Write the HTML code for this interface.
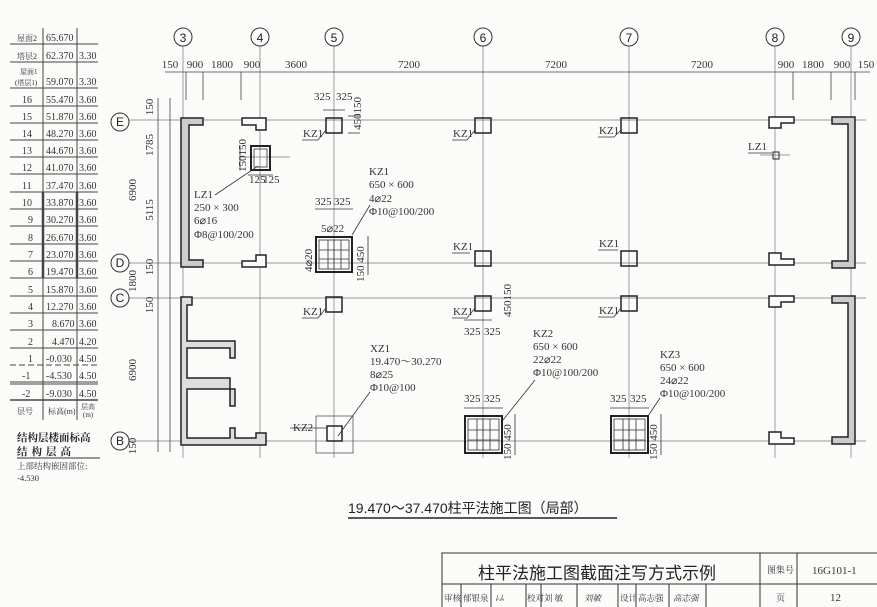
<!DOCTYPE html>
<html><head><meta charset="utf-8"><style>
html,body{margin:0;padding:0;background:#fbfbfa;}
svg{display:block;font-family:"Liberation Serif","Noto Serif CJK SC",serif;}
.t{font-size:11px;fill:#333;}
.s{font-size:10px;fill:#333;}
</style></head><body>
<svg width="877" height="607" viewBox="0 0 877 607" xmlns="http://www.w3.org/2000/svg">
<rect width="877" height="607" fill="#fbfbfa"/>
<!-- left table -->
<g stroke="#444" stroke-width="1" fill="none">
<line x1="10" y1="44" x2="98" y2="44"/>
<line x1="10" y1="62" x2="98" y2="62"/>
<line x1="10" y1="88" x2="98" y2="88"/>
<line x1="10" y1="106" x2="98" y2="106"/><line x1="10" y1="123" x2="98" y2="123"/><line x1="10" y1="140" x2="98" y2="140"/><line x1="10" y1="157" x2="98" y2="157"/><line x1="10" y1="174" x2="98" y2="174"/><line x1="10" y1="192" x2="98" y2="192"/><line x1="10" y1="209" x2="98" y2="209"/><line x1="10" y1="226" x2="98" y2="226"/><line x1="10" y1="244" x2="98" y2="244"/><line x1="10" y1="261" x2="98" y2="261"/><line x1="10" y1="278" x2="98" y2="278"/><line x1="10" y1="296" x2="98" y2="296"/><line x1="10" y1="313" x2="98" y2="313"/><line x1="10" y1="330" x2="98" y2="330"/><line x1="10" y1="348" x2="98" y2="348"/>
<line x1="10" y1="365" x2="98" y2="365" stroke-dasharray="6,3"/>
<line x1="10" y1="382" x2="98" y2="382"/><line x1="10" y1="384" x2="98" y2="384"/>
<line x1="10" y1="400" x2="98" y2="400" stroke-width="1.5"/>
<line x1="43" y1="28" x2="43" y2="420"/><line x1="77" y1="28" x2="77" y2="420"/>
<line x1="43" y1="192" x2="43" y2="278" stroke-width="2.5"/><line x1="77" y1="192" x2="77" y2="278" stroke-width="2.5"/>
</g>
<g class="s" font-size="9.5">
<text x="17" y="41" font-size="8">屋面2</text><text x="46" y="41">65.670</text>
<text x="17" y="59" font-size="8">塔层2</text><text x="46" y="59">62.370</text><text x="79" y="59">3.30</text>
<text x="20" y="74" font-size="7">屋面1</text><text x="15" y="85" font-size="7">(塔层1)</text><text x="46" y="85">59.070</text><text x="79" y="85">3.30</text>
<text x="22" y="103">16</text><text x="46" y="103">55.470</text><text x="79" y="103">3.60</text>
<text x="22" y="120">15</text><text x="46" y="120">51.870</text><text x="79" y="120">3.60</text>
<text x="22" y="137">14</text><text x="46" y="137">48.270</text><text x="79" y="137">3.60</text>
<text x="22" y="154">13</text><text x="46" y="154">44.670</text><text x="79" y="154">3.60</text>
<text x="22" y="171">12</text><text x="46" y="171">41.070</text><text x="79" y="171">3.60</text>
<text x="22" y="189">11</text><text x="46" y="189">37.470</text><text x="79" y="189">3.60</text>
<text x="22" y="206">10</text><text x="46" y="206">33.870</text><text x="79" y="206">3.60</text>
<text x="28" y="223">9</text><text x="46" y="223">30.270</text><text x="79" y="223">3.60</text>
<text x="28" y="241">8</text><text x="46" y="241">26.670</text><text x="79" y="241">3.60</text>
<text x="28" y="258">7</text><text x="46" y="258">23.070</text><text x="79" y="258">3.60</text>
<text x="28" y="275">6</text><text x="46" y="275">19.470</text><text x="79" y="275">3.60</text>
<text x="28" y="293">5</text><text x="46" y="293">15.870</text><text x="79" y="293">3.60</text>
<text x="28" y="310">4</text><text x="46" y="310">12.270</text><text x="79" y="310">3.60</text>
<text x="28" y="327">3</text><text x="52" y="327">8.670</text><text x="79" y="327">3.60</text>
<text x="28" y="345">2</text><text x="52" y="345">4.470</text><text x="79" y="345">4.20</text>
<text x="28" y="362">1</text><text x="46" y="362">-0.030</text><text x="79" y="362">4.50</text>
<text x="22" y="379">-1</text><text x="46" y="379">-4.530</text><text x="79" y="379">4.50</text>
<text x="22" y="397">-2</text><text x="46" y="397">-9.030</text><text x="79" y="397">4.50</text>
<text x="17" y="414" font-size="8">层号</text><text x="48" y="414" font-size="8">标高(m)</text><text x="81" y="409" font-size="7">层高</text><text x="83" y="417" font-size="7">(m)</text>
</g>
<text x="17" y="441" font-size="10.5" font-weight="bold" fill="#222">结构层楼面标高</text>
<text x="17" y="455" font-size="10.5" font-weight="bold" fill="#222" letter-spacing="4">结构层高</text>
<line x1="17" y1="458" x2="100" y2="458" stroke="#333"/>
<text x="17" y="469" font-size="8.5" fill="#333">上部结构嵌固部位:</text>
<text x="17" y="481" font-size="8.5" fill="#333">-4.530</text>

<!-- axes -->
<g stroke="#777" stroke-width="0.7" fill="none">
<line x1="183" y1="46" x2="183" y2="458"/><line x1="260" y1="46" x2="260" y2="458"/><line x1="334" y1="46" x2="334" y2="458"/><line x1="483" y1="46" x2="483" y2="458"/><line x1="629" y1="46" x2="629" y2="458"/><line x1="775" y1="46" x2="775" y2="458"/><line x1="851" y1="46" x2="851" y2="458"/>
<line x1="128" y1="120" x2="866" y2="120"/><line x1="128" y1="263" x2="866" y2="263"/><line x1="128" y1="298" x2="866" y2="298"/><line x1="128" y1="441" x2="866" y2="441"/>
<line x1="240" y1="157" x2="290" y2="157"/><line x1="760" y1="155" x2="790" y2="155"/>
</g>
<g stroke="#333" stroke-width="1" fill="#fbfbfa">
<circle cx="183" cy="37" r="9"/><circle cx="260" cy="37" r="9"/><circle cx="334" cy="37" r="9"/><circle cx="483" cy="37" r="9"/><circle cx="629" cy="37" r="9"/><circle cx="775" cy="37" r="9"/><circle cx="851" cy="37" r="9"/>
<circle cx="120" cy="122" r="9"/><circle cx="120" cy="263" r="9"/><circle cx="120" cy="298" r="9"/><circle cx="120" cy="441" r="9"/>
</g>
<g font-family="Liberation Sans,sans-serif" font-size="12" fill="#222" text-anchor="middle">
<text x="183" y="42">3</text><text x="260" y="42">4</text><text x="334" y="42">5</text><text x="483" y="42">6</text><text x="629" y="42">7</text><text x="775" y="42">8</text><text x="851" y="42">9</text>
<text x="120" y="126">E</text><text x="120" y="267">D</text><text x="120" y="302">C</text><text x="120" y="445">B</text>
</g>
<!-- top dimension -->
<g stroke="#444" stroke-width="0.8">
<line x1="165" y1="72" x2="870" y2="72"/>
<line x1="186" y1="72" x2="186" y2="100"/><line x1="203" y1="72" x2="203" y2="100"/><line x1="241" y1="72" x2="241" y2="100"/><line x1="793" y1="72" x2="793" y2="100"/><line x1="831" y1="72" x2="831" y2="100"/><line x1="855" y1="72" x2="855" y2="100"/>
<line x1="158" y1="98" x2="158" y2="452"/>
<line x1="170" y1="98" x2="170" y2="452"/>
</g>
<g class="t" text-anchor="middle">
<text x="170" y="68">150</text><text x="195" y="68">900</text><text x="222" y="68">1800</text><text x="252" y="68">900</text><text x="296" y="68">3600</text><text x="409" y="68">7200</text><text x="556" y="68">7200</text><text x="702" y="68">7200</text><text x="786" y="68">900</text><text x="813" y="68">1800</text><text x="842" y="68">900</text><text x="866" y="68">150</text>
</g>
<g class="t" text-anchor="middle">
<text transform="translate(153,107) rotate(-90)">150</text>
<text transform="translate(153,145) rotate(-90)">1785</text>
<text transform="translate(136,190) rotate(-90)">6900</text>
<text transform="translate(153,210) rotate(-90)">5115</text>
<text transform="translate(153,267) rotate(-90)">150</text>
<text transform="translate(136,281) rotate(-90)">1800</text>
<text transform="translate(153,305) rotate(-90)">150</text>
<text transform="translate(136,370) rotate(-90)">6900</text>
<text transform="translate(136,446) rotate(-90)">150</text>
</g>
<!-- walls -->
<g stroke="#222" stroke-width="1.5" fill="#ccc">
<polygon points="181,118 203,118 203,125 189,125 189,260 203,260 203,267 181,267"/>
<polygon points="855,117 832,117 832,124 848,124 848,261 832,261 832,268 855,268"/>
<polygon points="242,118 266,118 266,130 256,130 256,125 242,125" fill="#fbfbfa"/>
<polygon points="242,267 266,267 266,255 256,255 256,261 242,261" fill="#fbfbfa"/>
<polygon points="769,117 794,117 794,123 781,123 781,128 769,128" fill="#fbfbfa"/>
<polygon points="769,265 794,265 794,259 781,259 781,253 769,253" fill="#fbfbfa"/>
<polygon points="769,296 794,296 794,302 781,302 781,307 769,307" fill="#fbfbfa"/>
<polygon points="769,444 794,444 794,438 781,438 781,432 769,432" fill="#fbfbfa"/>
<polygon points="855,296 832,296 832,303 848,303 848,437 832,437 832,444 855,444"/>
<polygon points="181,297 192,297 192,305 187,305 187,341 235,341 235,358 230,358 230,348 187,348 187,378 230,378 230,406 235,406 235,389 187,389 187,393 187,438 230,438 230,428 235,428 235,438 256,438 256,433 266,433 266,445 181,445" fill="#ddd"/>
</g>
<!-- KZ1 squares -->
<g stroke="#222" stroke-width="1.5" fill="none">
<rect x="326" y="118" width="16" height="15"/><rect x="475" y="118" width="16" height="15"/><rect x="621" y="118" width="16" height="15"/>
<rect x="475" y="251" width="16" height="15"/><rect x="621" y="251" width="16" height="15"/>
<rect x="326" y="297" width="16" height="15"/><rect x="475" y="296" width="16" height="15"/><rect x="621" y="296" width="16" height="15"/>
<rect x="773" y="152" width="6" height="7" stroke-width="1"/>
<rect x="251" y="146" width="19" height="24" stroke-width="2"/>
<rect x="316" y="237" width="36" height="35" stroke-width="2"/>
<rect x="327" y="426" width="15" height="15"/>
<rect x="316" y="416" width="37" height="37" stroke-width="0.8" stroke="#555"/>
<rect x="465" y="416" width="37" height="37" stroke-width="2"/>
<rect x="611" y="416" width="37" height="37" stroke-width="2"/>
</g>
<g stroke="#333" stroke-width="0.8" fill="none">
<rect x="254" y="149" width="13" height="18"/>
<rect x="319" y="240" width="30" height="29"/><line x1="328" y1="240" x2="328" y2="269"/><line x1="334" y1="240" x2="334" y2="269"/><line x1="341" y1="240" x2="341" y2="269"/><line x1="319" y1="250" x2="349" y2="250"/><line x1="319" y1="259" x2="349" y2="259"/>
<rect x="468" y="419" width="31" height="31"/><line x1="477" y1="419" x2="477" y2="450"/><line x1="483" y1="419" x2="483" y2="450"/><line x1="490" y1="419" x2="490" y2="450"/><line x1="468" y1="430" x2="499" y2="430"/><line x1="468" y1="440" x2="499" y2="440"/>
<rect x="614" y="419" width="31" height="31"/><line x1="623" y1="419" x2="623" y2="450"/><line x1="629" y1="419" x2="629" y2="450"/><line x1="636" y1="419" x2="636" y2="450"/><line x1="614" y1="430" x2="645" y2="430"/><line x1="614" y1="440" x2="645" y2="440"/>
<polyline points="302,140 318,140 326,130"/><polyline points="452,140 467,140 475,130"/><polyline points="598,137 614,137 621,130"/>
<polyline points="452,253 470,253"/><polyline points="598,250 618,250"/>
<polyline points="302,318 318,318 326,308"/><polyline points="452,318 467,318 475,308"/><polyline points="598,317 614,317 621,308"/>
<polyline points="748,153 772,153"/><polyline points="290,428 327,428"/>
<line x1="215" y1="195" x2="258" y2="166"/><line x1="352" y1="235" x2="370" y2="205"/><line x1="338" y1="436" x2="370" y2="392"/><line x1="503" y1="420" x2="535" y2="380"/><line x1="648" y1="416" x2="660" y2="398"/>
<line x1="323" y1="110" x2="345" y2="110"/><line x1="348" y1="116" x2="360" y2="116"/><line x1="348" y1="133" x2="360" y2="133"/>
<line x1="315" y1="209" x2="353" y2="209"/><line x1="464" y1="408" x2="503" y2="408"/><line x1="610" y1="408" x2="649" y2="408"/>
<line x1="248" y1="175" x2="273" y2="175"/><line x1="240" y1="145" x2="240" y2="170"/>
<line x1="464" y1="320" x2="492" y2="320"/>
<line x1="368" y1="236" x2="368" y2="275"/><line x1="515" y1="414" x2="515" y2="455"/><line x1="661" y1="414" x2="661" y2="455"/>
</g>
<g class="t">
<text x="303" y="137">KZ1</text><text x="453" y="137">KZ1</text><text x="599" y="134">KZ1</text>
<text x="453" y="250">KZ1</text><text x="599" y="247">KZ1</text>
<text x="303" y="315">KZ1</text><text x="453" y="315">KZ1</text><text x="599" y="314">KZ1</text>
<text x="748" y="150">LZ1</text><text x="293" y="431">KZ2</text>
<text x="314" y="100">325</text><text x="336" y="100">325</text>
<text x="315" y="205">325</text><text x="334" y="205">325</text>
<text x="464" y="335">325</text><text x="484" y="335">325</text>
<text x="464" y="402">325</text><text x="484" y="402">325</text>
<text x="610" y="402">325</text><text x="630" y="402">325</text>
<text x="249" y="183">125</text><text x="263" y="183">125</text>
<text x="321" y="232">5⌀22</text>
<text x="194" y="198">LZ1</text><text x="194" y="211">250 × 300</text><text x="194" y="224">6⌀16</text><text x="194" y="238">Φ8@100/200</text>
<text x="369" y="175">KZ1</text><text x="369" y="188">650 × 600</text><text x="369" y="202">4⌀22</text><text x="369" y="215">Φ10@100/200</text>
<text x="370" y="352">XZ1</text><text x="370" y="365">19.470～30.270</text><text x="370" y="378">8⌀25</text><text x="370" y="391">Φ10@100</text>
<text x="533" y="337">KZ2</text><text x="533" y="350">650 × 600</text><text x="533" y="363">22⌀22</text><text x="533" y="376">Φ10@100/200</text>
<text x="660" y="358">KZ3</text><text x="660" y="371">650 × 600</text><text x="660" y="384">24⌀22</text><text x="660" y="397">Φ10@100/200</text>
<text transform="translate(361,130) rotate(-90)">450150</text>
<text transform="translate(246,172) rotate(-90)">150150</text>
<text transform="translate(312,272) rotate(-90)">4⌀20</text>
<text transform="translate(364,282) rotate(-90)">150 450</text>
<text transform="translate(511,317) rotate(-90)">450150</text>
<text transform="translate(511,460) rotate(-90)">150 450</text>
<text transform="translate(657,460) rotate(-90)">150 450</text>
</g>
<!-- title -->
<text x="348" y="513" font-family="Liberation Sans,'Noto Sans CJK SC',sans-serif" font-size="14" fill="#222">19.470～37.470柱平法施工图（局部）</text>
<line x1="348" y1="518" x2="617" y2="518" stroke="#222" stroke-width="1.5"/>
<!-- title block -->
<g stroke="#333" stroke-width="1" fill="none">
<rect x="442" y="553" width="440" height="60"/>
<line x1="442" y1="584" x2="877" y2="584"/>
<line x1="760" y1="553" x2="760" y2="607"/><line x1="797" y1="553" x2="797" y2="607"/>
<line x1="461" y1="584" x2="461" y2="607"/><line x1="491" y1="584" x2="491" y2="607"/><line x1="526" y1="584" x2="526" y2="607"/><line x1="541" y1="584" x2="541" y2="607"/><line x1="577" y1="584" x2="577" y2="607"/><line x1="618" y1="584" x2="618" y2="607"/><line x1="636" y1="584" x2="636" y2="607"/><line x1="669" y1="584" x2="669" y2="607"/><line x1="706" y1="584" x2="706" y2="607"/>
</g>
<text x="478" y="579" font-family="'Noto Sans CJK SC',sans-serif" font-size="17" fill="#222">柱平法施工图截面注写方式示例</text>
<text x="767" y="573" font-size="9" fill="#333">图集号</text>
<text x="812" y="574" font-size="11" fill="#333">16G101-1</text>
<text x="776" y="601" font-size="9" fill="#333">页</text>
<text x="830" y="601" font-size="11" fill="#333">12</text>
<g font-size="8.5" fill="#333"><text x="444" y="601">审核</text><text x="463" y="601">郁银泉</text><text x="495" y="601" font-style="italic">ﾚﾑ</text><text x="527" y="601">校对</text><text x="544" y="601">刘 敏</text><text x="584" y="601" font-style="italic">刘敏</text><text x="620" y="601">设计</text><text x="638" y="601">高志强</text><text x="673" y="601" font-style="italic">高志强</text></g>
</svg>
</body></html>
